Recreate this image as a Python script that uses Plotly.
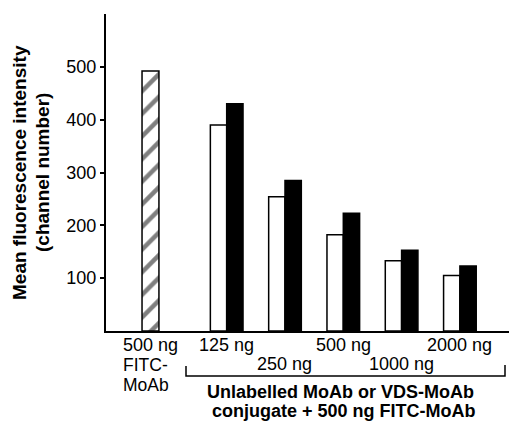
import plotly.graph_objects as go

# ---- data ----
doses = ["125 ng", "250 ng", "500 ng", "1000 ng", "2000 ng"]
unlabelled = [390, 254, 182, 133, 105]
vds_conj = [430, 285, 223, 153, 123]
fitc_label = "500 ng"
fitc_value = [492]
y_ticks = [100, 200, 300, 400, 500]

W, H = 510, 422
L, R, T, B = 106, 1, 14, 91
PW, PH = W - L - R, H - T - B
FONT = "Liberation Sans, Arial, Helvetica, sans-serif"

group_x = [1, 2, 3, 4, 5]
fitc_x = [-0.307]
XMIN, XMAX = -1.07, 5.842


def px_to_paper_x(px):
    return (px - L) / PW


def py_to_paper_y(py):
    return (H - B - py) / PH


bw = 0.28
fig = go.Figure()
fig.add_trace(go.Bar(
    x=fitc_x, y=fitc_value, width=0.29,
    marker=dict(color="white", line=dict(color="black", width=1.5),
                pattern=dict(shape="/", fgcolor="black", bgcolor="white",
                             size=16, solidity=0.28)),
    showlegend=False,
))
fig.add_trace(go.Bar(
    x=group_x, y=unlabelled, width=bw, offset=-bw,
    marker=dict(color="white", line=dict(color="black", width=1.5)),
    showlegend=False,
))
fig.add_trace(go.Bar(
    x=group_x, y=vds_conj, width=bw, offset=0,
    marker=dict(color="black", line=dict(color="black", width=1.5)),
    showlegend=False,
))

ann = []
# dose labels, staggered
for i, (gx, lab) in enumerate(zip(group_x, doses)):
    py = 345 if i % 2 == 0 else 364
    ann.append(dict(x=gx, y=py_to_paper_y(py), xref="x", yref="paper",
                    text=lab, showarrow=False, xanchor="center", yanchor="middle",
                    font=dict(size=18, family=FONT, color="black")))
# FITC label block
for txt, py, fs in [(fitc_label, 345, 18), ("FITC-", 365, 17.5), ("MoAb", 385, 17.5)]:
    ann.append(dict(x=px_to_paper_x(121), y=py_to_paper_y(py), xref="paper", yref="paper",
                    text=txt, showarrow=False, xanchor="left", yanchor="middle",
                    font=dict(size=fs, family=FONT, color="black")))
# bold caption
for txt, cx, py in [("<b>Unlabelled MoAb or VDS-MoAb</b>", 340, 392),
                    ("<b>conjugate + 500 ng FITC-MoAb</b>", 344, 411)]:
    ann.append(dict(x=px_to_paper_x(cx), y=py_to_paper_y(py), xref="paper", yref="paper",
                    text=txt, showarrow=False, xanchor="center", yanchor="middle",
                    font=dict(size=18, family=FONT, color="black")))
# y title lines
for txt, px in [("<b>Mean fluorescence intensity</b>", 19), ("<b>(channel number)</b>", 42)]:
    ann.append(dict(x=px_to_paper_x(px), y=py_to_paper_y(173), xref="paper", yref="paper",
                    text=txt, showarrow=False, xanchor="center", yanchor="middle",
                    textangle=-90, font=dict(size=19, family=FONT, color="black")))

bracket = dict(
    type="path", xref="paper", yref="paper",
    path=(f"M {px_to_paper_x(186)} {py_to_paper_y(366)} "
          f"L {px_to_paper_x(186)} {py_to_paper_y(376)} "
          f"L {px_to_paper_x(505)} {py_to_paper_y(376)} "
          f"L {px_to_paper_x(505)} {py_to_paper_y(365)}"),
    line=dict(color="black", width=1.5),
)

fig.update_layout(
    width=W, height=H,
    margin=dict(l=L, r=R, t=T, b=B, pad=0),
    paper_bgcolor="white", plot_bgcolor="white",
    font=dict(family=FONT, size=18, color="black"),
    barmode="overlay",
    xaxis=dict(range=[XMIN, XMAX], showgrid=False, zeroline=False,
               showticklabels=False, ticks="", showline=True,
               linecolor="black", linewidth=2),
    yaxis=dict(range=[0, 600], showgrid=False, zeroline=False,
               tickvals=y_ticks, ticks="outside", ticklen=4, tickwidth=1.5,
               tickcolor="black", showline=True, linecolor="black", linewidth=2,
               tickfont=dict(size=18, family=FONT, color="black")),
    annotations=ann,
    shapes=[bracket],
)

fig.write_html("out.html")
